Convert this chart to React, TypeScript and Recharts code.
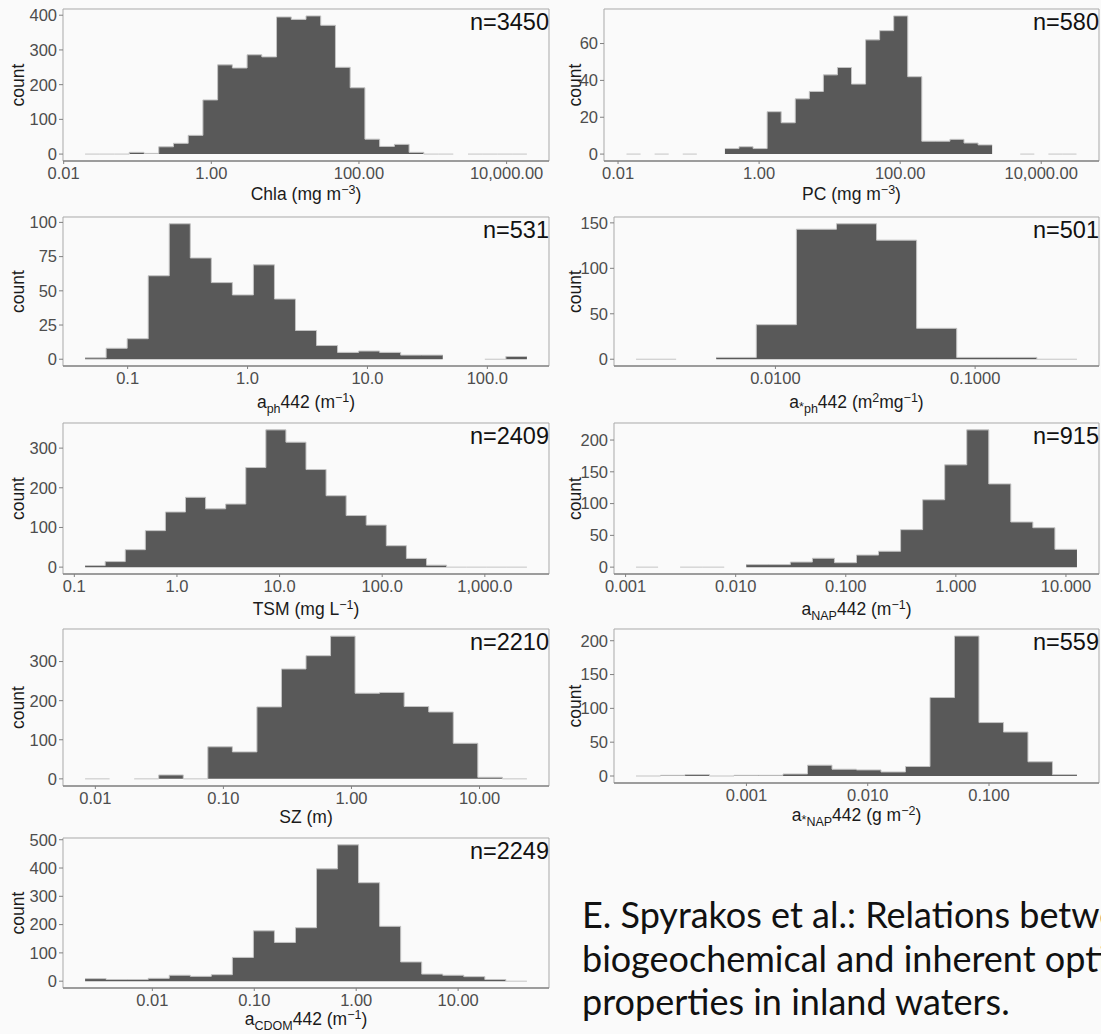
import React from 'react';
import { ComposedChart, Area, XAxis, YAxis, ReferenceArea } from 'recharts';

// Histogram bins: [first edge, last edge] in log10 units, then counts per bin.
// null = empty bin (nothing drawn), 0 = bin drawn as a flat line.
const chlaRange = [-1.71, 4.275];
const chlaCounts = [0, 0, 0, 5, 2, 21, 31, 54, 156, 257, 248, 286, 280, 395, 388, 398, 371, 250, 191, 43, 22, 28, 5, 0, 0, null, 0, 0, 0, 0];
const chlaXTicks = [0.01, 1, 100, 10000];
const chlaYTicks = [0, 100, 200, 300, 400];

const pcRange = [-1.88, 4.5];
const pcCounts = [0, null, 0, null, 0, null, null, 3, 4, 3, 23, 17, 30, 34, 43, 47, 38, 62, 67, 75, 42, 7, 7, 8, 6, 5, null, null, 0, null, 0, 0];
const pcXTicks = [0.01, 1, 100, 10000];
const pcYTicks = [0, 20, 40, 60];

const aphRange = [-1.355, 2.33];
const aphCounts = [1, 8, 15, 61, 99, 74, 56, 47, 69, 44, 21, 10, 5, 6, 5, 3, 3, null, null, 0, 2];
const aphXTicks = [0.1, 1, 10, 100];
const aphYTicks = [0, 25, 50, 75, 100];

const aphStarRange = [-2.698, -0.49];
const aphStarCounts = [0, null, 2, 38, 143, 149, 131, 34, 2, 2, 0];
const aphStarXTicks = [0.01, 0.1];
const aphStarYTicks = [0, 50, 100, 150];

const tsmRange = [-0.895, 3.41];
const tsmCounts = [4, 14, 44, 92, 139, 176, 147, 159, 251, 346, 315, 246, 180, 130, 106, 54, 22, 5, 0, 0, 0, 0];
const tsmXTicks = [0.1, 1, 10, 100, 1000];
const tsmYTicks = [0, 100, 200, 300];

const anapRange = [-2.905, 1.1];
const anapCounts = [0, null, 0, 0, null, 4, 4, 8, 14, 7, 19, 25, 59, 106, 161, 216, 131, 71, 62, 28];
const anapXTicks = [0.001, 0.01, 0.1, 1, 10];
const anapYTicks = [0, 50, 100, 150, 200];

const szRange = [-2.08, 1.37];
const szCounts = [0, null, 0, 10, 0, 82, 69, 184, 281, 315, 365, 219, 221, 185, 171, 91, 4, 0];
const szXTicks = [0.01, 0.1, 1, 10];
const szYTicks = [0, 100, 200, 300];

const anapStarRange = [-3.91, -0.275];
const anapStarCounts = [0, 1, 2, 0, 1, 1, 3, 16, 10, 9, 6, 14, 116, 207, 79, 65, 21, 2];
const anapStarXTicks = [0.001, 0.01, 0.1];
const anapStarYTicks = [0, 50, 100, 150, 200];

const cdomRange = [-2.66, 1.675];
const cdomCounts = [9, 6, 6, 10, 21, 17, 23, 84, 178, 137, 189, 397, 482, 348, 194, 68, 25, 21, 16, 6, 0];
const cdomXTicks = [0.01, 0.1, 1, 10];
const cdomYTicks = [0, 100, 200, 300, 400, 500];

const FONT = '"Liberation Sans", Arial, Helvetica, sans-serif';
const BAR = '#595959';

// two rows per bin (left edge, right edge) so the area draws flat-topped steps
const toSteps = (range, counts) => {
  const [lo, hi] = range;
  const w = (hi - lo) / counts.length;
  const rows = [];
  counts.forEach((c, i) => {
    rows.push({ x: lo + i * w, count: c });
    rows.push({ x: lo + (i + 1) * w, count: c });
  });
  return rows;
};

const fmt = (dec) => (v) =>
  Math.pow(10, v).toLocaleString('en-US', { minimumFractionDigits: dec, maximumFractionDigits: dec });

// axis title parts: [text, kind]
const renderTitle = (parts) => {
  let shift = 0;
  return parts.map(([t, kind], i) => {
    const target = kind === 'sup' ? -6.5 : kind === 'sub' ? 5 : kind === 'star' ? 3 : 0;
    const dy = target - shift;
    shift = target;
    return (
      <tspan key={i} dy={dy} fontSize={kind ? 12.5 : undefined}>
        {t}
      </tspan>
    );
  });
};

const Panel = ({ box, colX, range, counts, xTicks, yTicks, dec, n, title, titleDy, countX }) => {
  const [left, top, right, bottom] = box;
  const mt = 10;
  const mr = 2;
  const xh = 30;
  const yw = left - colX;
  const width = right - colX + mr;
  const height = mt + (bottom - top) + xh;
  const [lo, hi] = range;
  const pad = 0.05 * (hi - lo);
  const xDomain = [lo - pad, hi + pad];
  const maxCount = Math.max(...counts.filter((c) => c != null));
  const yDomain = [-0.05 * maxCount, 1.05 * maxCount];
  const plotL = yw;
  const plotR = width - mr;
  const plotT = mt;
  const plotB = height - xh;
  const tickStyle = { fill: '#4d4d4d', fontSize: 16.5, fontFamily: FONT };

  return (
    <div style={{ position: 'absolute', left: colX, top: top - mt, width, height }}>
      <ComposedChart
        width={width}
        height={height}
        data={toSteps(range, counts)}
        margin={{ top: mt, right: mr, bottom: 0, left: 0 }}
      >
        <ReferenceArea
          x1={xDomain[0]}
          x2={xDomain[1]}
          y1={yDomain[0]}
          y2={yDomain[1]}
          fill="none"
          stroke="#a9a9a9"
          strokeWidth={1}
          ifOverflow="visible"
        />
        <XAxis
          type="number"
          dataKey="x"
          domain={xDomain}
          allowDataOverflow
          ticks={xTicks.map(Math.log10)}
          tickFormatter={fmt(dec)}
          interval={0}
          height={xh}
          tickSize={3}
          tickMargin={3}
          axisLine={{ stroke: '#8a8a8a', strokeWidth: 1.4 }}
          tickLine={{ stroke: '#808080' }}
          tick={tickStyle}
        />
        <YAxis
          type="number"
          domain={yDomain}
          allowDataOverflow
          ticks={yTicks}
          interval={0}
          width={yw}
          tickSize={4}
          tickMargin={2}
          axisLine={false}
          tickLine={{ stroke: '#808080' }}
          tick={tickStyle}
        />
        <Area
          type="linear"
          dataKey="count"
          baseValue={0}
          fill={BAR}
          fillOpacity={1}
          stroke="#c4c4c4"
          strokeWidth={1}
          connectNulls={false}
          dot={false}
          activeDot={false}
          isAnimationActive={false}
        />
      </ComposedChart>
      <svg
        width={width}
        height={height + 20}
        style={{ position: 'absolute', left: 0, top: 0, overflow: 'visible', pointerEvents: 'none' }}
        fontFamily={FONT}
      >
        <text x={plotR} y={plotT + 20.5} textAnchor="end" fontSize={23.5} fill="#111">
          {n}
        </text>
        <text
          x={countX - colX}
          y={(plotT + plotB) / 2}
          transform={`rotate(-90 ${countX - colX} ${(plotT + plotB) / 2})`}
          textAnchor="middle"
          fontSize={17.5}
          fill="#1a1a1a"
        >
          count
        </text>
        <text x={(plotL + plotR) / 2} y={plotB + titleDy} textAnchor="middle" fontSize={17.5} fill="#1a1a1a">
          {renderTitle(title)}
        </text>
      </svg>
    </div>
  );
};

const LEFT = { colX: 0, countX: 23.5 };
const RIGHT = { colX: 560, countX: 581 };

const panels = [
  { ...LEFT, box: [63, 9, 549, 161], range: chlaRange, counts: chlaCounts, xTicks: chlaXTicks, yTicks: chlaYTicks, dec: 2, n: 'n=3450', titleDy: 39, title: [['Chla (mg m'], ['−3', 'sup'], [')']] },
  { ...RIGHT, box: [604, 9, 1099, 161], range: pcRange, counts: pcCounts, xTicks: pcXTicks, yTicks: pcYTicks, dec: 2, n: 'n=580', titleDy: 39, title: [['PC (mg m'], ['−3', 'sup'], [')']] },
  { ...LEFT, box: [63, 217, 549, 366], range: aphRange, counts: aphCounts, xTicks: aphXTicks, yTicks: aphYTicks, dec: 1, n: 'n=531', titleDy: 42, title: [['a'], ['ph', 'sub'], ['442 (m'], ['−1', 'sup'], [')']] },
  { ...RIGHT, box: [614, 217, 1099, 366], range: aphStarRange, counts: aphStarCounts, xTicks: aphStarXTicks, yTicks: aphStarYTicks, dec: 4, n: 'n=501', titleDy: 42, title: [['a'], ['*', 'star'], ['ph', 'sub'], ['442 (m'], ['2', 'sup'], ['mg'], ['−1', 'sup'], [')']] },
  { ...LEFT, box: [63, 423, 549, 574], range: tsmRange, counts: tsmCounts, xTicks: tsmXTicks, yTicks: tsmYTicks, dec: 1, n: 'n=2409', titleDy: 41, title: [['TSM (mg L'], ['−1', 'sup'], [')']] },
  { ...RIGHT, box: [614, 423, 1099, 574], range: anapRange, counts: anapCounts, xTicks: anapXTicks, yTicks: anapYTicks, dec: 3, n: 'n=915', titleDy: 41, title: [['a'], ['NAP', 'sub'], ['442 (m'], ['−1', 'sup'], [')']] },
  { ...LEFT, box: [63, 629, 549, 786], range: szRange, counts: szCounts, xTicks: szXTicks, yTicks: szYTicks, dec: 2, n: 'n=2210', titleDy: 37, title: [['SZ (m)']] },
  { ...RIGHT, box: [614, 629, 1099, 783], range: anapStarRange, counts: anapStarCounts, xTicks: anapStarXTicks, yTicks: anapStarYTicks, dec: 3, n: 'n=559', titleDy: 38, title: [['a'], ['*', 'star'], ['NAP', 'sub'], ['442 (g m'], ['−2', 'sup'], [')']] },
  { ...LEFT, box: [63, 838, 549, 988], range: cdomRange, counts: cdomCounts, xTicks: cdomXTicks, yTicks: cdomYTicks, dec: 2, n: 'n=2249', titleDy: 37, title: [['a'], ['CDOM', 'sub'], ['442 (m'], ['−1', 'sup'], [')']] },
];

const captionLines = [
  'E. Spyrakos et al.: Relations between',
  'biogeochemical and inherent optical',
  'properties in inland waters.',
];

export default function App() {
  return (
    <div
      style={{
        position: 'absolute',
        left: 0,
        top: 0,
        width: 1101,
        height: 1034,
        overflow: 'hidden',
        background: '#fafafa',
      }}
    >
      {panels.map((p, i) => (
        <Panel key={i} {...p} />
      ))}
      <svg width={1101} height={1034} style={{ position: 'absolute', left: 0, top: 0, pointerEvents: 'none' }}>
        {captionLines.map((line, i) => (
          <text key={i} x={582} y={928 + i * 43.5} fontFamily="Lato, 'Open Sans', sans-serif" fontSize={36} fill="#111">
            {line}
          </text>
        ))}
      </svg>
    </div>
  );
}
